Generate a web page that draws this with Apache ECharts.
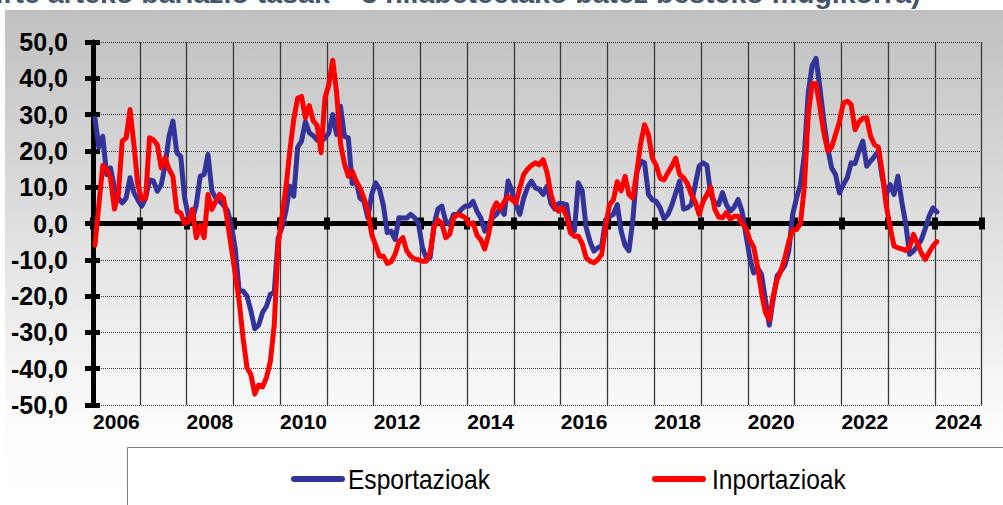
<!DOCTYPE html>
<html>
<head>
<meta charset="utf-8">
<script src="https://cdn.jsdelivr.net/npm/echarts@6/dist/echarts.min.js"></script>
<style>
html,body{margin:0;padding:0;background:#ffffff;}
#c{width:1003px;height:505px;}
</style>
</head>
<body>
<div id="c"></div>
<script>
// Tick labels (one band per year)
const years = ['2006','2007','2008','2009','2010','2011','2012','2013','2014','2015','2016','2017','2018','2019','2020','2021','2022','2023','2024'];

// Monthly values, Jan 2006 .. Jan 2024
const esportazioak = [
  29, 21, 24, 13.5, 15.3, 9.8, 7, 5.7, 7, 12.6, 8.5, 6.5,
  4.8, 7, 12, 11.7, 8.9, 10.7, 16, 24, 28.2, 19.5, 18.5, 7,
  2, 1.1, 5.2, 13, 13.5, 19, 9, 7, 6.1, 5, 3.6, -0.5,
  -7, -18.6, -18.6, -20, -24, -29, -28, -24.5, -22.8, -19.5, -19, -4,
  -1, 3.5, 10.3, 7.5, 21, 22.7, 28, 25, 24.2, 23, 22.7, 23.5,
  25, 30, 24.5, 32.3, 24, 23.6, 11, 11.7, 7, 6.1, 1.6, 8,
  11.2, 9.5, 5, -2.5, -2.1, -4.4, 1.6, 1.5, 1.5, 2.5, 1.6, 0,
  -6.5, -9.5, -9.4, -0.3, 4, 4.8, 0.6, -0.3, 2.5, 2.5, 3.9, 4.8,
  4.8, 6.1, 3.4, 1.5, -2.1, -0.3, 1.6, 2.5, 4.3, 2.5, 11.7, 8.9,
  5.2, 2.5, 7, 10, 11.7, 9.8, 9.4, 8, 10.3, 5.5, 4, 5.5,
  5.5, 5.2, -2.1, -2.1, 11.2, 9, -1, -4.9, -7.6, -6.7, -6.2, 1,
  2, 2.5, 5.2, -2.1, -6, -7.5, 1, 14, 17.2, 16.7, 8, 6.5,
  6.1, 4.3, 1.3, 2.5, 5, 8.4, 11.7, 4, 4.3, 5.2, 10.7, 15.8,
  16.7, 16, 8, 5.7, 5.2, 8.5, 5.2, 3.4, 4.5, 6.6, 3.4, -3,
  -9.4, -13.6, -12.2, -14, -21, -28, -21, -14.5, -13.1, -11.5, -7.6, 2.5,
  7, 10.7, 19, 36, 43.5, 45.5, 37.3, 28.2, 20.8, 15.3, 13.5, 8.4,
  10.7, 12.6, 16.7, 16.5, 19.9, 22.7, 15.8, 17.2, 18.5, 19.9, 12.6, 8,
  10.7, 8, 13, 6, 0, -8.5, -7.6, -6.2, -4.5, -1.5, 2, 4.3,
  3.2
];
const inportazioak = [
  -6, 5, 16, 15, 12.5, 4, 8, 22.7, 23.6, 31.4, 21.7, 10.7,
  6.6, 7, 23.6, 23.1, 21.7, 15.3, 18.1, 15, 13, 3.4, 2.9, 0,
  0.5, 3.9, -3.9, -0.5, -3.9, 8, 3.9, 6.1, 8, 7, 0.6, -6.7,
  -14, -21.4, -31.5, -39.7, -41.6, -47, -44.5, -45, -42.5, -38, -28, -6,
  2, 10, 20, 28.7, 34.5, 35, 29.1, 32.5, 28.3, 27, 19.5, 34.5,
  38.3, 45, 36, 22, 16.5, 13, 14.4, 11.7, 9.8, 7, 3.5, -3,
  -6, -9, -9, -11, -10.5, -8.5, -5, -3.9, -7.6, -9, -9.8, -10,
  -10.4, -10.4, -8, -1, 1, 0, -3.9, -3, 1.5, 2.5, 2.2, 1.6,
  -0.3, 0.2, -3.2, -4.5, -7, -3, 3.4, 5.7, 4, 6, 7.5, 6.5,
  5.7, 9.8, 13.5, 15, 16, 16.7, 16.2, 17.6, 14, 8, 4.5, 3.4,
  4.3, 2, -2.5, -3.5, -3.5, -5.5, -9.4, -10.4, -10.8, -10, -8.5, -1,
  5.2, 6.5, 11.5, 9, 13, 8, 7, 14, 22, 27.2, 24.5, 18,
  16, 12.5, 12, 14, 15.8, 18, 13.5, 12.6, 11, 8, 6, 2.5,
  6, 8, 10, 4, 1.8, 1.6, 3, 1.2, 2, 2, 0, -1.2,
  -4.5, -6.5, -12, -19, -24.5, -26.5, -20, -15.5, -13, -9.5, -5, -1.7,
  -1.7, 0, 10, 30, 38.5, 38.5, 32, 25, 20, 21, 24.5, 28,
  33.2, 33.7, 32.8, 25.8, 28, 29, 29.1, 24, 21.7, 21, 14, 5,
  -1, -6.2, -6.7, -7, -7.4, -6.5, -3, -5.5, -8.1, -9.9, -8, -6.2,
  -5
];

const seriesNames = ['Esportazioak', 'Inportazioak'];
const seriesColors = ['#333399', '#ff0000'];
const titleText = 'urte arteko bariazio tasak \u2013 3 hilabeteetako batez besteko mugikorra)';

const monthsTotal = years.length * 12;
const toPairs = arr => arr.map((v, i) => [i + 0.5, v]);
const fmt = v => v.toFixed(1).replace('.', ',');
const sansBold = '"Liberation Sans", Arial, sans-serif';

// Legend entries (condensed text as in the original)
const legendItems = [ { left: 291, textLeft: 348 }, { left: 652, textLeft: 712 } ];
const legendY = 479;
const legendGraphics = [];
legendItems.forEach((it, i) => {
  legendGraphics.push({ type: 'line', z: 20, silent: true,
    shape: { x1: it.left + 3, y1: legendY, x2: it.left + 51, y2: legendY },
    style: { stroke: seriesColors[i], lineWidth: 6, lineCap: 'round' } });
  legendGraphics.push({ type: 'text', z: 20, silent: true, x: it.textLeft, y: legendY, scaleX: 0.877,
    style: { x: 0, y: 0, text: seriesNames[i], font: '28px ' + sansBold, fill: '#000',
      textVerticalAlign: 'middle', verticalAlign: 'middle' } });
});

const chart = echarts.init(document.getElementById('c'), null, { renderer: 'svg' });

chart.setOption({
  animation: false,
  backgroundColor: '#ffffff',
  graphic: [
    { type: 'rect', z: -100, silent: true,
      shape: { x: 5, y: 10, width: 1000, height: 495 },
      style: { fill: { type: 'linear', x: 0, y: 0, x2: 0, y2: 1,
        colorStops: [ { offset: 0, color: '#c0c0c0' }, { offset: 0.85, color: '#fdfdfd' }, { offset: 1, color: '#ffffff' } ] } } },
    { type: 'rect', z: -50, silent: true,
      shape: { x: 127.5, y: 447.5, width: 900, height: 100 },
      style: { fill: '#ffffff', stroke: '#7f7f7f', lineWidth: 1 } },
    { type: 'text', z: 10, silent: true,
      style: { x: -14, y: -7, text: titleText, font: 'bold 28.5px ' + sansBold, fill: '#44546A',
        textVerticalAlign: 'middle', verticalAlign: 'middle' } }
  ].concat(legendGraphics),
  grid: { left: 93, right: 21.3, top: 42, bottom: 100, containLabel: false },
  xAxis: [
    { type: 'category', data: years, position: 'bottom', boundaryGap: true,
      axisLine: { show: false, onZero: false }, axisTick: { show: false },
      axisLabel: { interval: 1, margin: 6, fontSize: 21, fontWeight: 'bold', color: '#000', fontFamily: sansBold },
      splitLine: { show: true, interval: 0, lineStyle: { color: '#3a3a3a', width: 1.3 } } },
    { type: 'value', min: 0, max: monthsTotal, interval: 12, position: 'bottom',
      axisLine: { show: true, onZero: true, onZeroAxisIndex: 0, lineStyle: { color: '#000', width: 5 } },
      axisTick: { show: true, length: 6, lineStyle: { color: '#000', width: 6 } },
      axisLabel: { show: false }, splitLine: { show: false } },
    { type: 'value', min: 0, max: monthsTotal, interval: 12, position: 'bottom',
      axisLine: { show: false, onZero: true, onZeroAxisIndex: 0 },
      axisTick: { show: true, inside: true, length: 6, lineStyle: { color: '#000', width: 6 } },
      axisLabel: { show: false }, splitLine: { show: false } }
  ],
  yAxis: [
    { type: 'value', min: -50, max: 50, interval: 10, position: 'left',
      axisLine: { show: true, onZero: false, lineStyle: { color: '#000', width: 5 } },
      axisTick: { show: true, length: 8, lineStyle: { color: '#000', width: 5 } },
      axisLabel: { margin: 25, fontSize: 25, fontWeight: 'bold', color: '#000', fontFamily: sansBold, formatter: fmt },
      splitLine: { show: true, lineStyle: { color: '#333', width: 1, type: 'dotted' } } },
    { type: 'value', min: -50, max: 50, interval: 10, position: 'left',
      axisLine: { show: false, onZero: false },
      axisTick: { show: true, inside: true, length: 7, lineStyle: { color: '#000', width: 5 } },
      axisLabel: { show: false }, splitLine: { show: false } }
  ],
  series: [
    { name: seriesNames[0], type: 'line', xAxisIndex: 1, yAxisIndex: 0, data: toPairs(esportazioak),
      showSymbol: false, symbol: 'none', z: 3,
      lineStyle: { color: seriesColors[0], width: 5, join: 'round', cap: 'round' }, itemStyle: { color: seriesColors[0] } },
    { name: seriesNames[1], type: 'line', xAxisIndex: 1, yAxisIndex: 0, data: toPairs(inportazioak),
      showSymbol: false, symbol: 'none', z: 4,
      lineStyle: { color: seriesColors[1], width: 5, join: 'round', cap: 'round' }, itemStyle: { color: seriesColors[1] } }
  ]
});
</script>
</body>
</html>
